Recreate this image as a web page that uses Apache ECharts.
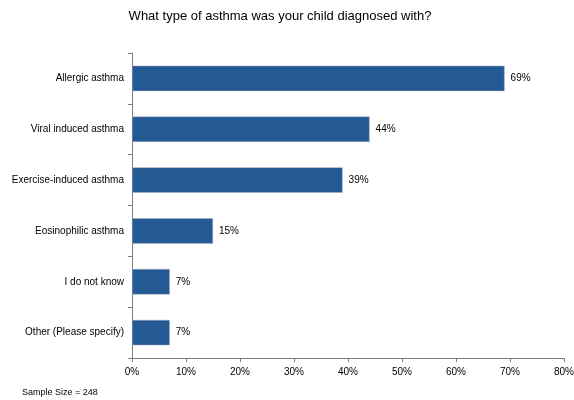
<!DOCTYPE html>
<html>
<head>
<meta charset="utf-8">
<script src="https://cdn.jsdelivr.net/npm/echarts@6/dist/echarts.min.js"></script>
<style>
  html, body { margin: 0; padding: 0; background: #fff; }
  #chart { width: 574px; height: 400px; }
</style>
</head>
<body>
<div id="chart"></div>
<script>
// answer options, top to bottom
var categories = ['Allergic asthma', 'Viral induced asthma', 'Exercise-induced asthma',
    'Eosinophilic asthma', 'I do not know', 'Other (Please specify)'];
var values = [69, 44, 39, 15, 7, 7];
var sampleSize = 248;

var myChart = echarts.init(document.getElementById('chart'));
var font = 'Liberation Sans, Arial, sans-serif';

myChart.setOption({
    animation: false,
    title: [{
        text: 'What type of asthma was your child diagnosed with?',
        left: 275,
        textAlign: 'center',
        top: 5,
        textStyle: { fontFamily: font, fontSize: 13, fontWeight: 'normal', color: '#000' }
    }, {
        text: 'Sample Size = ' + sampleSize,
        left: 17,
        top: 383,
        textStyle: { fontFamily: font, fontSize: 9, fontWeight: 'normal', color: '#000' }
    }],
    grid: { left: 132, right: 10, top: 53, bottom: 42, outerBoundsMode: 'none', containLabel: false },
    xAxis: {
        type: 'value',
        min: 0,
        max: 80,
        interval: 10,
        splitLine: { show: false },
        axisLine: { show: true, lineStyle: { color: '#7f7f7f' } },
        axisTick: { show: true, length: 4, lineStyle: { color: '#7f7f7f' } },
        axisLabel: {
            formatter: '{value}%',
            fontFamily: font, fontSize: 10, color: '#000', margin: 9
        }
    },
    yAxis: {
        type: 'category',
        data: categories,
        inverse: true,
        axisLine: { show: true, lineStyle: { color: '#7f7f7f' } },
        axisTick: { show: true, length: 4, lineStyle: { color: '#7f7f7f' } },
        axisLabel: { fontFamily: font, fontSize: 10, color: '#000', margin: 8 }
    },
    series: [{
        type: 'bar',
        data: values,
        barWidth: '50%',
        itemStyle: { color: '#255994', borderColor: '#a6b3c4', borderWidth: 0.5 },
        label: {
            show: true,
            position: 'right',
            distance: 6,
            formatter: '{c}%',
            fontFamily: font, fontSize: 10, color: '#000'
        }
    }]
});
</script>
</body>
</html>
